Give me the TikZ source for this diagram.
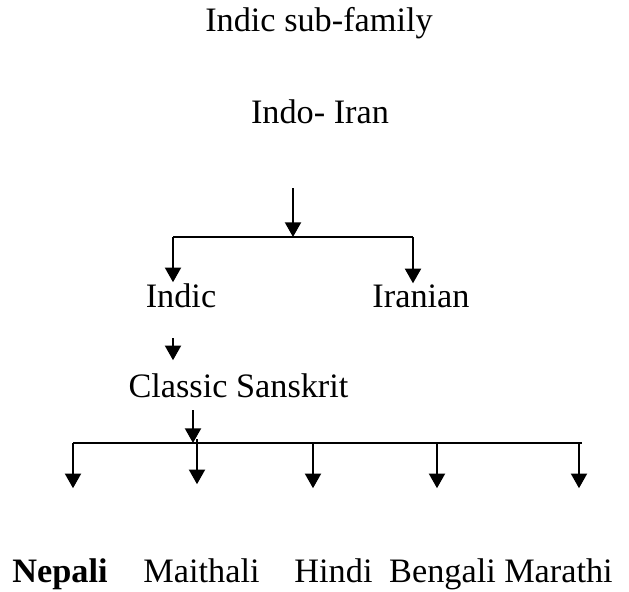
\documentclass[tikz,border=0pt]{standalone}
\usepackage{fontspec}
\setmainfont{Liberation Serif}
\usetikzlibrary{arrows.meta}

\tikzset{every picture/.style={line width=1.5pt}}
\tikzset{
  lbl/.style={anchor=base,inner sep=0pt,font=\fontsize{25.7}{30}\selectfont},
  arr/.style={-{Triangle[width=12pt,length=11pt]}},
}

\begin{document}
\begin{tikzpicture}[x=0.75pt,y=0.75pt,yscale=-1,xscale=1]
    \useasboundingbox (0,0) rectangle (629,592);

    % Text Node
    \node [lbl] (subfam) at (319,32) {Indic sub-family};
    % Text Node
    \node [lbl] (indoiran) at (320,123) {Indo- Iran};
    % Text Node
    \node [lbl] (indic) at (181,307) {Indic};
    % Text Node
    \node [lbl] (iranian) at (421,307) {Iranian};
    % Text Node
    \node [lbl] (sanskrit) at (238.5,397) {Classic Sanskrit};
    % Text Node
    \node [lbl,font=\fontsize{25.7}{30}\selectfont\bfseries] (nepali) at (60,582) {Nepali};
    % Text Node
    \node [lbl] (maithali) at (201.5,582) {Maithali};
    % Text Node
    \node [lbl] (hindi) at (333.5,582) {Hindi};
    % Text Node
    \node [lbl] (bengali) at (442.5,582) {Bengali};
    % Text Node
    \node [lbl] (marathi) at (558.5,582) {Marathi};

    % junction points
    \coordinate (iranTop) at (293,188);
    \coordinate (iranBar) at (293,237);
    \coordinate (barL) at (173,237);
    \coordinate (barR) at (413,237);
    \coordinate (skTop) at (173,338);
    \coordinate (skDown) at (193,410);
    \coordinate (lowL) at (73,443);
    \coordinate (lowR) at (582,443);

    %Straight Lines
    \draw [arr] (iranTop) -- (iranBar);
    \draw (barL) -- (barR);
    \draw [arr] (barL) -- (barL |- indic.north);
    \draw [arr] (barR) -- (barR |- iranian.north);

    %Straight Lines
    \draw [arr,shorten >=9pt] (skTop) -- (skTop |- sanskrit.north);
    \draw [arr] (skDown) -- (skDown |- lowL);
    \draw (lowL) -- (lowR);

    %Straight Lines
    \foreach \n/\x in {nepali/73, hindi/313, bengali/437, marathi/579} {
        \coordinate (d\n) at (\x,443);
        \draw [arr,shorten >=51.75pt] (d\n) -- (d\n |- \n.north);
    }
    \coordinate (dmaithali) at (197,439);
    \draw [arr,shorten >=54.75pt] (dmaithali) -- (dmaithali |- maithali.north);

\end{tikzpicture}
\end{document}
